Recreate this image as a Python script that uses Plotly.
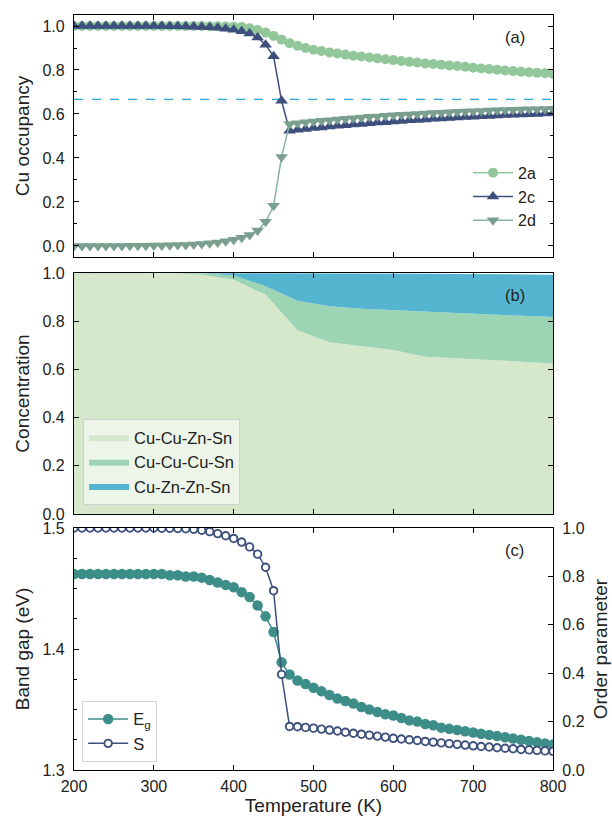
import plotly.graph_objects as go

# ---------------- data ----------------
temperature = list(range(200, 801, 10))

occ_2a = [1.0, 1.0, 1.0, 1.0, 1.0, 1.0, 1.0, 1.0, 1.0, 1.0,
          1.0, 1.0, 1.0, 1.0, 1.0, 1.0, 1.0, 0.999, 0.999, 0.998,
          0.997, 0.995, 0.99, 0.982, 0.97, 0.955, 0.938, 0.922, 0.91, 0.9,
          0.892, 0.886, 0.88, 0.875, 0.87, 0.865, 0.861, 0.857, 0.853, 0.849,
          0.845, 0.841, 0.837, 0.834, 0.83, 0.827, 0.824, 0.821, 0.818, 0.815,
          0.81, 0.807, 0.804, 0.801, 0.798, 0.795, 0.792, 0.79, 0.787, 0.785,
          0.782]

occ_2c = [1.0, 1.0, 1.0, 1.0, 1.0, 1.0, 1.0, 1.0, 1.0, 1.0,
          1.0, 1.0, 0.999, 0.999, 0.998, 0.997, 0.996, 0.994, 0.992, 0.988,
          0.983, 0.976, 0.966, 0.948, 0.915, 0.862, 0.66, 0.524, 0.528, 0.532,
          0.536, 0.539, 0.543, 0.546, 0.549, 0.552, 0.555, 0.558, 0.561, 0.563,
          0.566, 0.568, 0.571, 0.573, 0.575, 0.578, 0.58, 0.582, 0.584, 0.586,
          0.588, 0.59, 0.591, 0.593, 0.595, 0.596, 0.598, 0.599, 0.6, 0.602,
          0.603]

occ_2d = [0.0, 0.0, 0.0, 0.0, 0.0, 0.0, 0.0, 0.001, 0.001, 0.001,
          0.002, 0.002, 0.003, 0.004, 0.005, 0.007, 0.009, 0.012, 0.016, 0.021,
          0.028, 0.037, 0.05, 0.07, 0.11, 0.183, 0.405, 0.555, 0.558, 0.562,
          0.566, 0.569, 0.572, 0.575, 0.578, 0.581, 0.584, 0.587, 0.589, 0.592,
          0.594, 0.596, 0.598, 0.6, 0.602, 0.604, 0.606, 0.608, 0.61, 0.611,
          0.613, 0.614, 0.616, 0.617, 0.618, 0.619, 0.62, 0.621, 0.622, 0.623,
          0.624]

ideal_occupancy = 2 / 3

temperature_conc = [200, 240, 280, 320, 360, 400, 440, 480, 520, 560,
                    600, 640, 680, 720, 760, 800]
conc_cu_cu_zn_sn = [1.0, 1.0, 1.0, 0.999, 0.993, 0.972, 0.91, 0.762, 0.713, 0.697,
                    0.68, 0.653, 0.646, 0.639, 0.632, 0.625]
conc_cu_cu_cu_sn = [0.0, 0.0, 0.0, 0.001, 0.006, 0.018, 0.035, 0.123, 0.149, 0.155,
                    0.165, 0.187, 0.188, 0.189, 0.19, 0.192]
conc_cu_zn_zn_sn = [0.0, 0.0, 0.0, 0.0, 0.001, 0.01, 0.055, 0.115, 0.138, 0.147,
                    0.153, 0.157, 0.162, 0.167, 0.172, 0.176]

band_gap = [1.462, 1.462, 1.462, 1.462, 1.462, 1.462, 1.462, 1.462, 1.462, 1.462,
            1.462, 1.462, 1.461, 1.461, 1.46, 1.46, 1.459, 1.457, 1.455, 1.453,
            1.451, 1.447, 1.443, 1.436, 1.427, 1.414, 1.389, 1.379, 1.374, 1.371,
            1.368, 1.365, 1.362, 1.359, 1.357, 1.355, 1.352, 1.35, 1.348, 1.346,
            1.345, 1.343, 1.341, 1.34, 1.338, 1.337, 1.335, 1.334, 1.333, 1.332,
            1.331, 1.33, 1.329, 1.328, 1.327, 1.326, 1.325, 1.324, 1.323, 1.322,
            1.321]

order_param = [1.0, 1.0, 1.0, 1.0, 1.0, 1.0, 1.0, 1.0, 1.0, 1.0,
               1.0, 0.999, 0.999, 0.998, 0.997, 0.995, 0.991, 0.985, 0.977, 0.968,
               0.957, 0.942, 0.922, 0.892, 0.838, 0.741, 0.395, 0.18, 0.179, 0.176,
               0.173, 0.169, 0.165, 0.161, 0.156, 0.152, 0.148, 0.144, 0.14, 0.136,
               0.131, 0.128, 0.125, 0.122, 0.118, 0.115, 0.112, 0.109, 0.106, 0.103,
               0.1, 0.097, 0.095, 0.092, 0.09, 0.088, 0.085, 0.083, 0.081, 0.079,
               0.077]

# ---------------- styles ----------------
FONT = "Liberation Sans, Arial, Helvetica, sans-serif"
C2A = "#92c79b"
C2C = "#3d4f7c"
C2D = "#7b9f8f"
C2D_LINE = "#86b3a8"
CDASH = "#2ea9d2"
CB1 = "#d5e8cc"
CB2 = "#9dd4b4"
CB3 = "#55b5d0"
CEG = "#3d8e89"
CS = "#3d4f7c"

fig = go.Figure()

# Panel (a)
fig.add_trace(go.Scatter(x=temperature, y=occ_2a, name="2a", mode="lines+markers",
                         marker=dict(symbol="circle", size=10, color=C2A),
                         line=dict(color=C2A, width=1.5),
                         xaxis="x", yaxis="y", legend="legend"))
fig.add_trace(go.Scatter(x=temperature, y=occ_2c, name="2c", mode="lines+markers",
                         marker=dict(symbol="triangle-up", size=11, color=C2C),
                         line=dict(color=C2C, width=1.5),
                         xaxis="x", yaxis="y", legend="legend"))
fig.add_trace(go.Scatter(x=temperature, y=occ_2d, name="2d", mode="lines+markers",
                         marker=dict(symbol="triangle-down", size=11, color=C2D),
                         line=dict(color=C2D_LINE, width=1.5),
                         xaxis="x", yaxis="y", legend="legend"))
fig.add_shape(type="line", xref="x domain", x0=0, x1=1, yref="y",
              y0=ideal_occupancy, y1=ideal_occupancy, layer="below",
              line=dict(color=CDASH, width=1.4, dash="dash"))

# Panel (b)
for name, vals, col in [("Cu-Cu-Zn-Sn", conc_cu_cu_zn_sn, CB1),
                        ("Cu-Cu-Cu-Sn", conc_cu_cu_cu_sn, CB2),
                        ("Cu-Zn-Zn-Sn", conc_cu_zn_zn_sn, CB3)]:
    fig.add_trace(go.Scatter(x=temperature_conc, y=vals, name=name, mode="lines",
                             stackgroup="one", line=dict(width=0, color=col),
                             fillcolor=col, xaxis="x2", yaxis="y2", legend="legend2"))

# Panel (c)
fig.add_trace(go.Scatter(x=temperature, y=band_gap, name="E<sub>g</sub>", mode="lines+markers",
                         marker=dict(symbol="circle", size=10.5, color=CEG),
                         line=dict(color=CEG, width=1.5),
                         xaxis="x3", yaxis="y3", legend="legend3"))
fig.add_trace(go.Scatter(x=temperature, y=order_param, name="S", mode="lines+markers",
                         marker=dict(symbol="circle", size=7.5, color="white",
                                     line=dict(color=CS, width=1.9)),
                         line=dict(color=CS, width=1.5),
                         xaxis="x3", yaxis="y4", legend="legend3"))

tickfont = dict(family=FONT, size=16, color="#222")
titlefont = dict(family=FONT, size=19, color="#222")
common_x = dict(range=[200, 800], dtick=100, tick0=200, ticks="inside", ticklen=5,
                tickwidth=1.2, tickcolor="black", showline=True, linecolor="black",
                linewidth=1.3, mirror="ticks", showgrid=False, zeroline=False,
                tickfont=tickfont, ticklabelstandoff=2, automargin=False)
common_y = dict(ticks="inside", ticklen=5, tickwidth=1.2, tickcolor="black",
                showline=True, linecolor="black", linewidth=1.3, showgrid=False,
                zeroline=False, tickfont=tickfont, tickformat=".1f",
                ticklabelstandoff=5, automargin=False)

fig.update_layout(
    width=612, height=823,
    margin=dict(l=74, r=59, t=15, b=53),
    paper_bgcolor="white", plot_bgcolor="white",
    font=dict(family=FONT, color="#222"),
    xaxis=dict(**common_x, domain=[0, 1], anchor="y", showticklabels=False),
    yaxis=dict(**common_y, domain=[0.6795, 1.0], range=[-0.05, 1.05], dtick=0.2, tick0=0,
               mirror="ticks", minor=dict(dtick=0.1, tick0=0, ticks="inside", ticklen=3,
                                          tickcolor="black", showgrid=False),
               title=dict(text="Cu occupancy", font=titlefont, standoff=7)),
    xaxis2=dict(**common_x, domain=[0, 1], anchor="y2", showticklabels=False),
    yaxis2=dict(**common_y, domain=[0.339, 0.6583], range=[0, 1], dtick=0.2, tick0=0,
                mirror="ticks",
                title=dict(text="Concentration", font=titlefont, standoff=7)),
    xaxis3=dict(**common_x, domain=[0, 1], anchor="y3", showticklabels=True,
                title=dict(text="Temperature (K)", font=titlefont, standoff=4)),
    yaxis3=dict(**common_y, domain=[0, 0.3205], range=[1.3, 1.5], dtick=0.1, tick0=1.3,
                mirror=False, minor=dict(dtick=0.025, tick0=1.3, ticks="inside", ticklen=3,
                                         tickcolor="black", showgrid=False),
                title=dict(text="Band gap (eV)", font=titlefont, standoff=7)),
    yaxis4=dict(**common_y, overlaying="y3", side="right", anchor="x3", range=[0, 1],
                dtick=0.2, tick0=0,
                title=dict(text="Order parameter", font=titlefont, standoff=10)),
    legend=dict(x=0.975, y=0.705, xanchor="right", yanchor="bottom",
                bgcolor="rgba(255,255,255,0)", borderwidth=0,
                font=dict(family=FONT, size=16, color="#222"), traceorder="normal",
                itemwidth=40),
    legend2=dict(x=0.019, y=0.351, xanchor="left", yanchor="bottom",
                 bgcolor="rgba(255,255,255,0.55)", bordercolor="#d0d0d0", borderwidth=1,
                 font=dict(family=FONT, size=16.5, color="#222"), traceorder="normal",
                 itemwidth=40),
    legend3=dict(x=0.017, y=0.011, xanchor="left", yanchor="bottom",
                 bgcolor="rgba(255,255,255,0.8)", bordercolor="#d0d0d0", borderwidth=1,
                 font=dict(family=FONT, size=16.5, color="#222"), traceorder="normal",
                 itemwidth=40),
    showlegend=True,
)

for label, yref in [("(a)", "y domain"), ("(b)", "y2 domain"), ("(c)", "y3 domain")]:
    fig.add_annotation(text=label, xref="x domain", x=0.92, yref=yref, y=0.91,
                       showarrow=False, xanchor="center", yanchor="middle",
                       font=dict(family=FONT, size=16.5, color="#222"))

fig.write_html("out.html")
